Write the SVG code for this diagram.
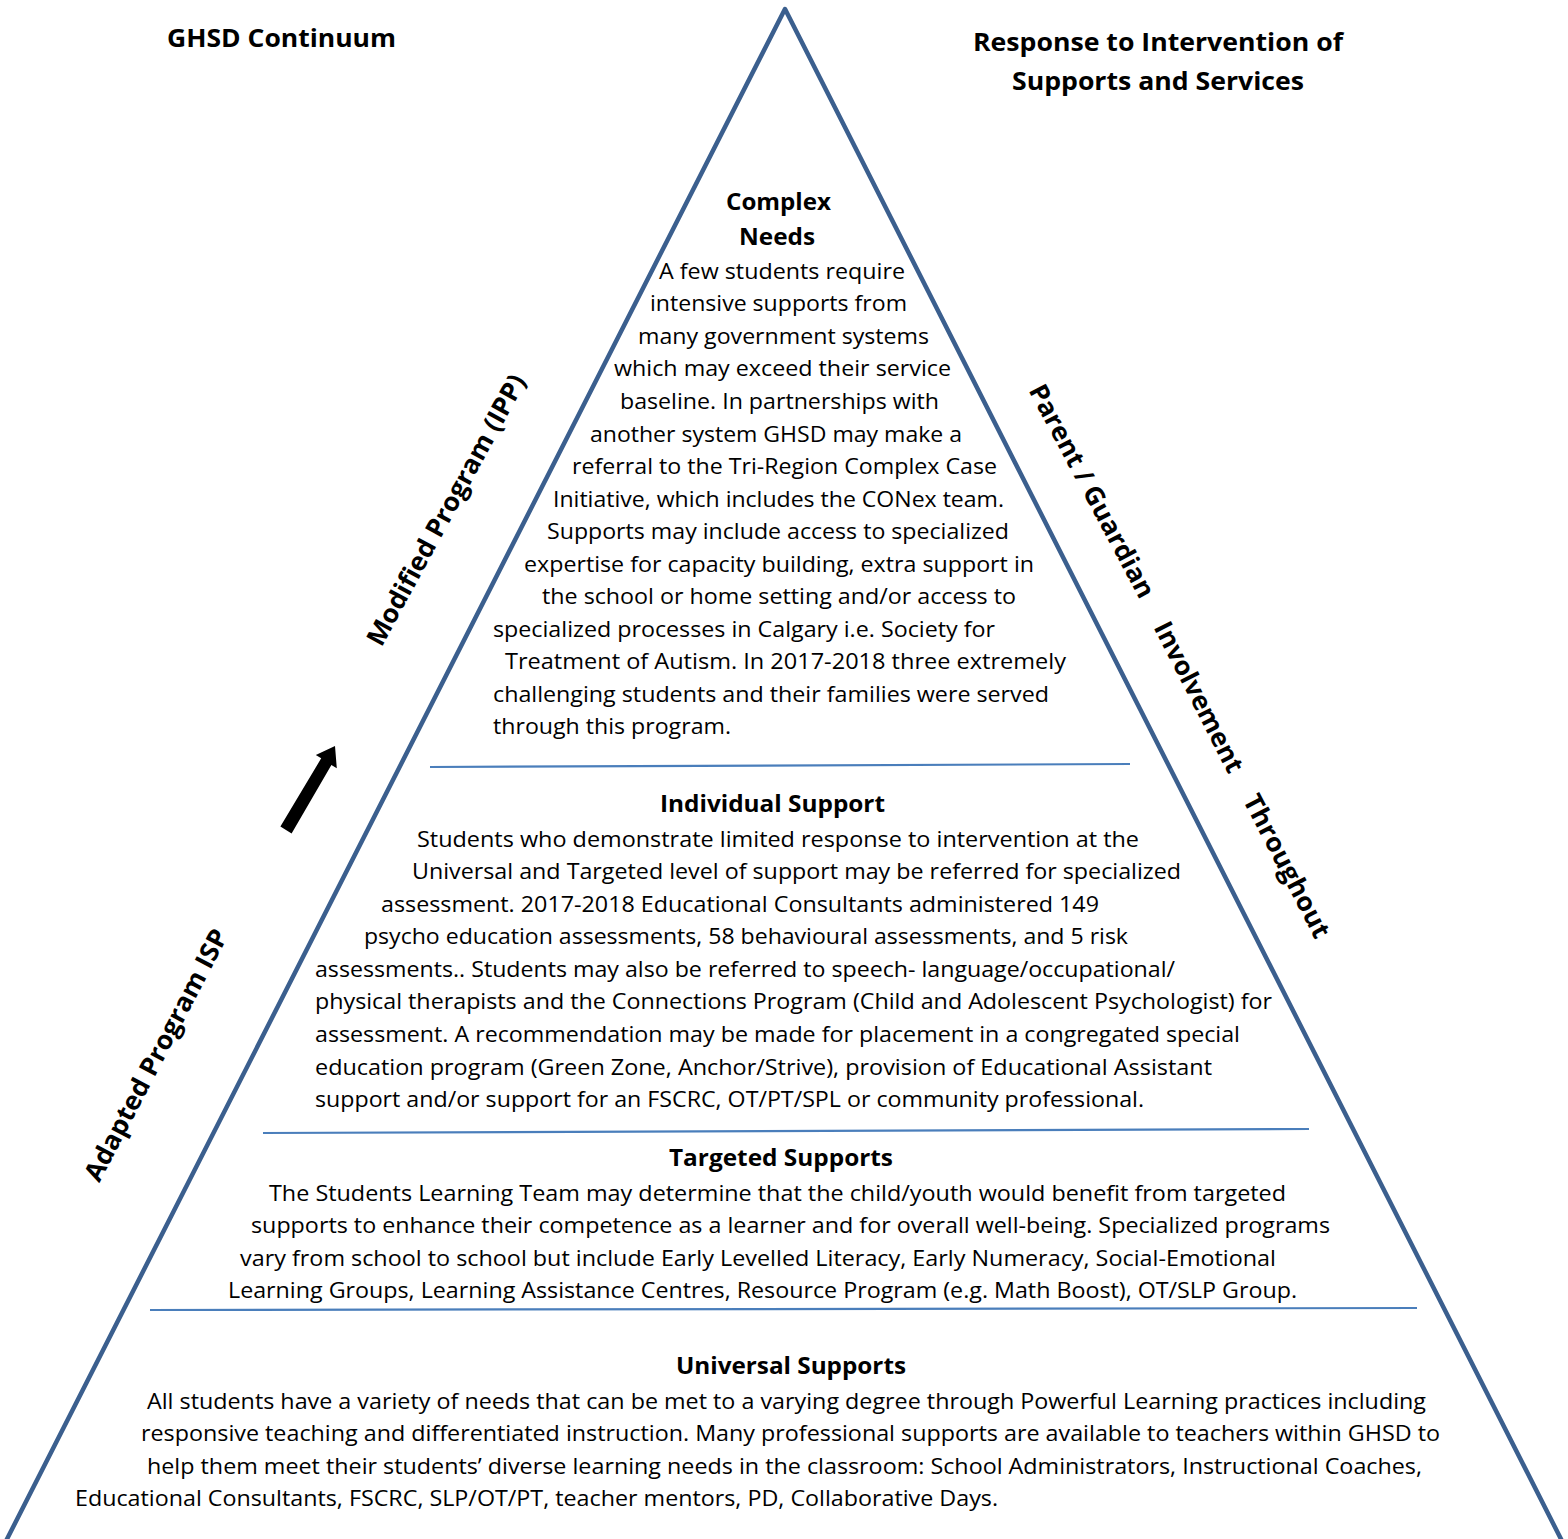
<svg xmlns="http://www.w3.org/2000/svg" width="1568" height="1539" viewBox="0 0 1568 1539">
<style>
text{font-family:"Open Sans","Noto Sans","Liberation Sans",sans-serif;fill:#000}
.b{font-size:21px}
.h{font-size:24px;font-weight:bold}
.t{font-size:25px;font-weight:bold}
.r{font-size:26px;font-weight:bold;text-anchor:middle}
.div{stroke:#4a7ebb;stroke-width:2.2;fill:none}
</style>
<rect width="1568" height="1539" fill="#fff"/>
<g id="pyramid">
<polyline points="6,1541 785,9 1562,1541" fill="none" stroke="#3b5f8e" stroke-width="4.5" stroke-linejoin="round"/>
<line class="div" x1="430" y1="767" x2="1130" y2="764"/>
<line class="div" x1="263" y1="1133" x2="1309" y2="1129"/>
<line class="div" x1="150" y1="1310" x2="1417" y2="1308"/>
</g>
<g id="titles">
<text class="t" x="167" y="47" textLength="229" lengthAdjust="spacingAndGlyphs">GHSD Continuum</text>
<text class="t" x="973" y="51" textLength="370" lengthAdjust="spacingAndGlyphs">Response to Intervention of</text>
<text class="t" x="1012" y="90" textLength="292" lengthAdjust="spacingAndGlyphs">Supports and Services</text>
</g>
<g id="side-labels">
<text class="r" transform="translate(446,510) rotate(-61.5)" x="0" y="9" textLength="304" lengthAdjust="spacingAndGlyphs">Modified Program (IPP)</text>
<text class="r" transform="translate(156,1055) rotate(-62.5)" x="0" y="9" textLength="280" lengthAdjust="spacingAndGlyphs">Adapted Program ISP</text>
<text class="r" transform="translate(1092,491) rotate(62)" x="0" y="9" textLength="238" lengthAdjust="spacingAndGlyphs">Parent / Guardian</text>
<text class="r" transform="translate(1199,697) rotate(63)" x="0" y="9" textLength="166" lengthAdjust="spacingAndGlyphs">Involvement</text>
<text class="r" transform="translate(1287,866) rotate(62.5)" x="0" y="9" textLength="158" lengthAdjust="spacingAndGlyphs">Throughout</text>
</g>
<g id="complex-needs">
<text class="h" x="726" y="210" textLength="105" lengthAdjust="spacingAndGlyphs">Complex</text>
<text class="h" x="739" y="245" textLength="76" lengthAdjust="spacingAndGlyphs">Needs</text>
<text class="b" x="659" y="279" textLength="246" lengthAdjust="spacingAndGlyphs">A few students require</text>
<text class="b" x="650" y="311" textLength="257" lengthAdjust="spacingAndGlyphs">intensive supports from</text>
<text class="b" x="638" y="344" textLength="291" lengthAdjust="spacingAndGlyphs">many government systems</text>
<text class="b" x="614" y="376" textLength="337" lengthAdjust="spacingAndGlyphs">which may exceed their service</text>
<text class="b" x="620" y="409" textLength="319" lengthAdjust="spacingAndGlyphs">baseline. In partnerships with</text>
<text class="b" x="590" y="442" textLength="372" lengthAdjust="spacingAndGlyphs">another system GHSD may make a</text>
<text class="b" x="572" y="474" textLength="425" lengthAdjust="spacingAndGlyphs">referral to the Tri-Region Complex Case</text>
<text class="b" x="553" y="507" textLength="451" lengthAdjust="spacingAndGlyphs">Initiative, which includes the CONex team.</text>
<text class="b" x="547" y="539" textLength="462" lengthAdjust="spacingAndGlyphs">Supports may include access to specialized</text>
<text class="b" x="524" y="572" textLength="510" lengthAdjust="spacingAndGlyphs">expertise for capacity building, extra support in</text>
<text class="b" x="542" y="604" textLength="474" lengthAdjust="spacingAndGlyphs">the school or home setting and/or access to</text>
<text class="b" x="493" y="637" textLength="502" lengthAdjust="spacingAndGlyphs">specialized processes in Calgary i.e. Society for</text>
<text class="b" x="505" y="669" textLength="561" lengthAdjust="spacingAndGlyphs">Treatment of Autism. In 2017-2018 three extremely</text>
<text class="b" x="493" y="702" textLength="556" lengthAdjust="spacingAndGlyphs">challenging students and their families were served</text>
<text class="b" x="493" y="734" textLength="238" lengthAdjust="spacingAndGlyphs">through this program.</text>
</g>
<g id="individual-support">
<text class="h" x="660" y="812" textLength="225" lengthAdjust="spacingAndGlyphs">Individual Support</text>
<text class="b" x="417" y="847" textLength="722" lengthAdjust="spacingAndGlyphs">Students who demonstrate limited response to intervention at the</text>
<text class="b" x="412" y="879" textLength="769" lengthAdjust="spacingAndGlyphs">Universal and Targeted level of support may be referred for specialized</text>
<text class="b" x="381" y="912" textLength="718" lengthAdjust="spacingAndGlyphs">assessment. 2017-2018 Educational Consultants administered 149</text>
<text class="b" x="364" y="944" textLength="764" lengthAdjust="spacingAndGlyphs">psycho education assessments, 58 behavioural assessments, and 5 risk</text>
<text class="b" x="315" y="977" textLength="860" lengthAdjust="spacingAndGlyphs">assessments.. Students may also be referred to speech- language/occupational/</text>
<text class="b" x="315" y="1009" textLength="957" lengthAdjust="spacingAndGlyphs">physical therapists and the Connections Program (Child and Adolescent Psychologist) for</text>
<text class="b" x="315" y="1042" textLength="925" lengthAdjust="spacingAndGlyphs">assessment. A recommendation may be made for placement in a congregated special</text>
<text class="b" x="315" y="1075" textLength="897" lengthAdjust="spacingAndGlyphs">education program (Green Zone, Anchor/Strive), provision of Educational Assistant</text>
<text class="b" x="315" y="1107" textLength="829" lengthAdjust="spacingAndGlyphs">support and/or support for an FSCRC, OT/PT/SPL or community professional.</text>
</g>
<g id="targeted-supports">
<text class="h" x="669" y="1166" textLength="224" lengthAdjust="spacingAndGlyphs">Targeted Supports</text>
<text class="b" x="269" y="1201" textLength="1017" lengthAdjust="spacingAndGlyphs">The Students Learning Team may determine that the child/youth would benefit from targeted</text>
<text class="b" x="251" y="1233" textLength="1079" lengthAdjust="spacingAndGlyphs">supports to enhance their competence as a learner and for overall well-being. Specialized programs</text>
<text class="b" x="240" y="1266" textLength="1036" lengthAdjust="spacingAndGlyphs">vary from school to school but include Early Levelled Literacy, Early Numeracy, Social-Emotional</text>
<text class="b" x="228" y="1298" textLength="1069" lengthAdjust="spacingAndGlyphs">Learning Groups, Learning Assistance Centres, Resource Program (e.g. Math Boost), OT/SLP Group.</text>
</g>
<g id="universal-supports">
<text class="h" x="676" y="1374" textLength="230" lengthAdjust="spacingAndGlyphs">Universal Supports</text>
<text class="b" x="147" y="1409" textLength="1279" lengthAdjust="spacingAndGlyphs">All students have a variety of needs that can be met to a varying degree through Powerful Learning practices including</text>
<text class="b" x="141" y="1441" textLength="1299" lengthAdjust="spacingAndGlyphs">responsive teaching and differentiated instruction. Many professional supports are available to teachers within GHSD to</text>
<text class="b" x="147" y="1474" textLength="1275" lengthAdjust="spacingAndGlyphs">help them meet their students’ diverse learning needs in the classroom: School Administrators, Instructional Coaches,</text>
<text class="b" x="75" y="1506" textLength="923" lengthAdjust="spacingAndGlyphs">Educational Consultants, FSCRC, SLP/OT/PT, teacher mentors, PD, Collaborative Days.</text>
</g>
<g id="connectors">
<polygon points="280.4,826.6 321.2,758.3 315.8,755.1 335,746 336.8,768.2 331.4,765.0 291.6,833.4" fill="#000"/>
</g>
</svg>
